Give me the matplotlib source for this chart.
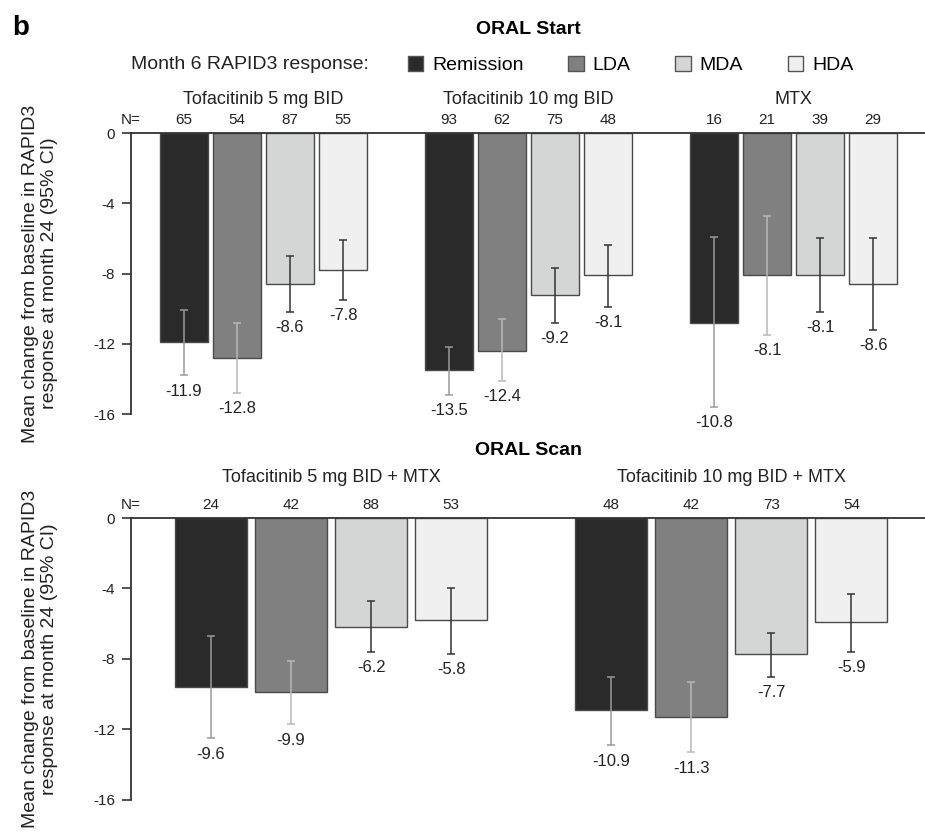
import numpy as np
import matplotlib
matplotlib.use("Agg")
import matplotlib.pyplot as plt
from matplotlib.patches import Patch

plt.rcParams['font.family'] = ['Liberation Sans', 'DejaVu Sans']

# Response categories and styles
categories = ['Remission', 'LDA', 'MDA', 'HDA']
colors = ['#2a2a2a', '#808080', '#d4d6d6', '#f0f0f0']
err_colors = ['#9a9a9a', '#b8b8b8', '#333333', '#333333']

# ORAL Start
start_groups = ['Tofacitinib 5 mg BID', 'Tofacitinib 10 mg BID', 'MTX']
start_n = [[65, 54, 87, 55], [93, 62, 75, 48], [16, 21, 39, 29]]
start_mean = [[-11.9, -12.8, -8.6, -7.8], [-13.5, -12.4, -9.2, -8.1], [-10.8, -8.1, -8.1, -8.6]]
start_hi = [[-10.1, -10.8, -7.0, -6.1], [-12.2, -10.6, -7.7, -6.4], [-5.9, -4.7, -6.0, -6.0]]
start_lo = [[-13.8, -14.8, -10.2, -9.5], [-14.9, -14.1, -10.8, -9.9], [-15.6, -11.5, -10.2, -11.2]]

# ORAL Scan
scan_groups = ['Tofacitinib 5 mg BID + MTX', 'Tofacitinib 10 mg BID + MTX']
scan_n = [[24, 42, 88, 53], [48, 42, 73, 54]]
scan_mean = [[-9.6, -9.9, -6.2, -5.8], [-10.9, -11.3, -7.7, -5.9]]
scan_hi = [[-6.7, -8.1, -4.7, -4.0], [-9.0, -9.3, -6.5, -4.3]]
scan_lo = [[-12.5, -11.7, -7.6, -7.7], [-12.9, -13.3, -9.0, -7.6]]

ylabel = 'Mean change from baseline in RAPID3\nresponse at month 24 (95% CI)'


def draw_panel(ax, groups, n, mean, hi, lo, xmax, group_y):
    for g, name in enumerate(groups):
        for i in range(4):
            x = g * 5 + i
            m = mean[g][i]
            ax.bar(x, m, width=0.9, color=colors[i], edgecolor='#4a4a4a', linewidth=1.0)
            ax.errorbar(x, m, yerr=[[m - lo[g][i]], [hi[g][i] - m]], fmt='none',
                        ecolor=err_colors[i], elinewidth=1.1, capsize=3, capthick=1.1)
            ax.annotate(f'{m:.1f}', (x, lo[g][i]), xytext=(0, -6), textcoords='offset points',
                        ha='center', va='top', fontsize=12, color='#222222')
            ax.text(x, 1.045, str(n[g][i]), transform=ax.get_xaxis_transform(),
                    ha='center', va='center', fontsize=11, color='#222222')
        ax.text(g * 5 + 1.5, group_y, name, transform=ax.get_xaxis_transform(),
                ha='center', va='center', fontsize=13, color='#222222')
    ax.text(-1, 1.045, 'N=', transform=ax.get_xaxis_transform(),
            ha='center', va='center', fontsize=11, color='#222222')
    ax.set_xlim(-1, xmax)
    ax.set_ylim(-16, 0)
    ax.set_yticks([0, -4, -8, -12, -16])
    ax.set_yticklabels(['0', '-4', '-8', '-12', '-16'])
    ax.set_xticks([])
    ax.tick_params(axis='y', length=6.5, width=1.2, pad=5, labelsize=11,
                   colors='#333333', labelcolor='#222222')
    for side in ['right', 'bottom']:
        ax.spines[side].set_visible(False)
    for side in ['left', 'top']:
        ax.spines[side].set_color('#333333')
        ax.spines[side].set_linewidth(1.3)
    ax.set_ylabel(ylabel, fontsize=14, color='#222222', linespacing=1.15)
    ax.yaxis.set_label_coords(-0.092, 0.5)


fig = plt.figure(figsize=(9.25, 8.32), dpi=100)
ax1 = fig.add_axes([0.1416, 0.5024, 0.8584, 0.3377])
ax2 = fig.add_axes([0.1416, 0.0385, 0.8584, 0.3389])

draw_panel(ax1, start_groups, start_n, start_mean, start_hi, start_lo, 13.98, 1.121)
draw_panel(ax2, scan_groups, scan_n, scan_mean, scan_hi, scan_lo, 8.92, 1.142)

fig.text(0.013, 0.958, 'b', fontsize=20, fontweight='bold', ha='left', va='baseline')
fig.text(0.571, 0.965, 'ORAL Start', fontsize=14, fontweight='bold', ha='center', va='center')
fig.text(0.571, 0.459, 'ORAL Scan', fontsize=14, fontweight='bold', ha='center', va='center')

fig.text(0.399, 0.922, 'Month 6 RAPID3 response:', fontsize=14, ha='right', va='center',
         color='#222222')
handles = [Patch(facecolor=c, edgecolor='#555555', linewidth=1.0) for c in colors]
fig.legend(handles, categories, loc='center left', bbox_to_anchor=(0.441, 0.922),
           ncol=4, frameon=False, fontsize=14, handlelength=0.8, handleheight=0.8,
           handletextpad=0.45, columnspacing=2.3, borderpad=0, borderaxespad=0)

fig.savefig('out.png', dpi=100)
